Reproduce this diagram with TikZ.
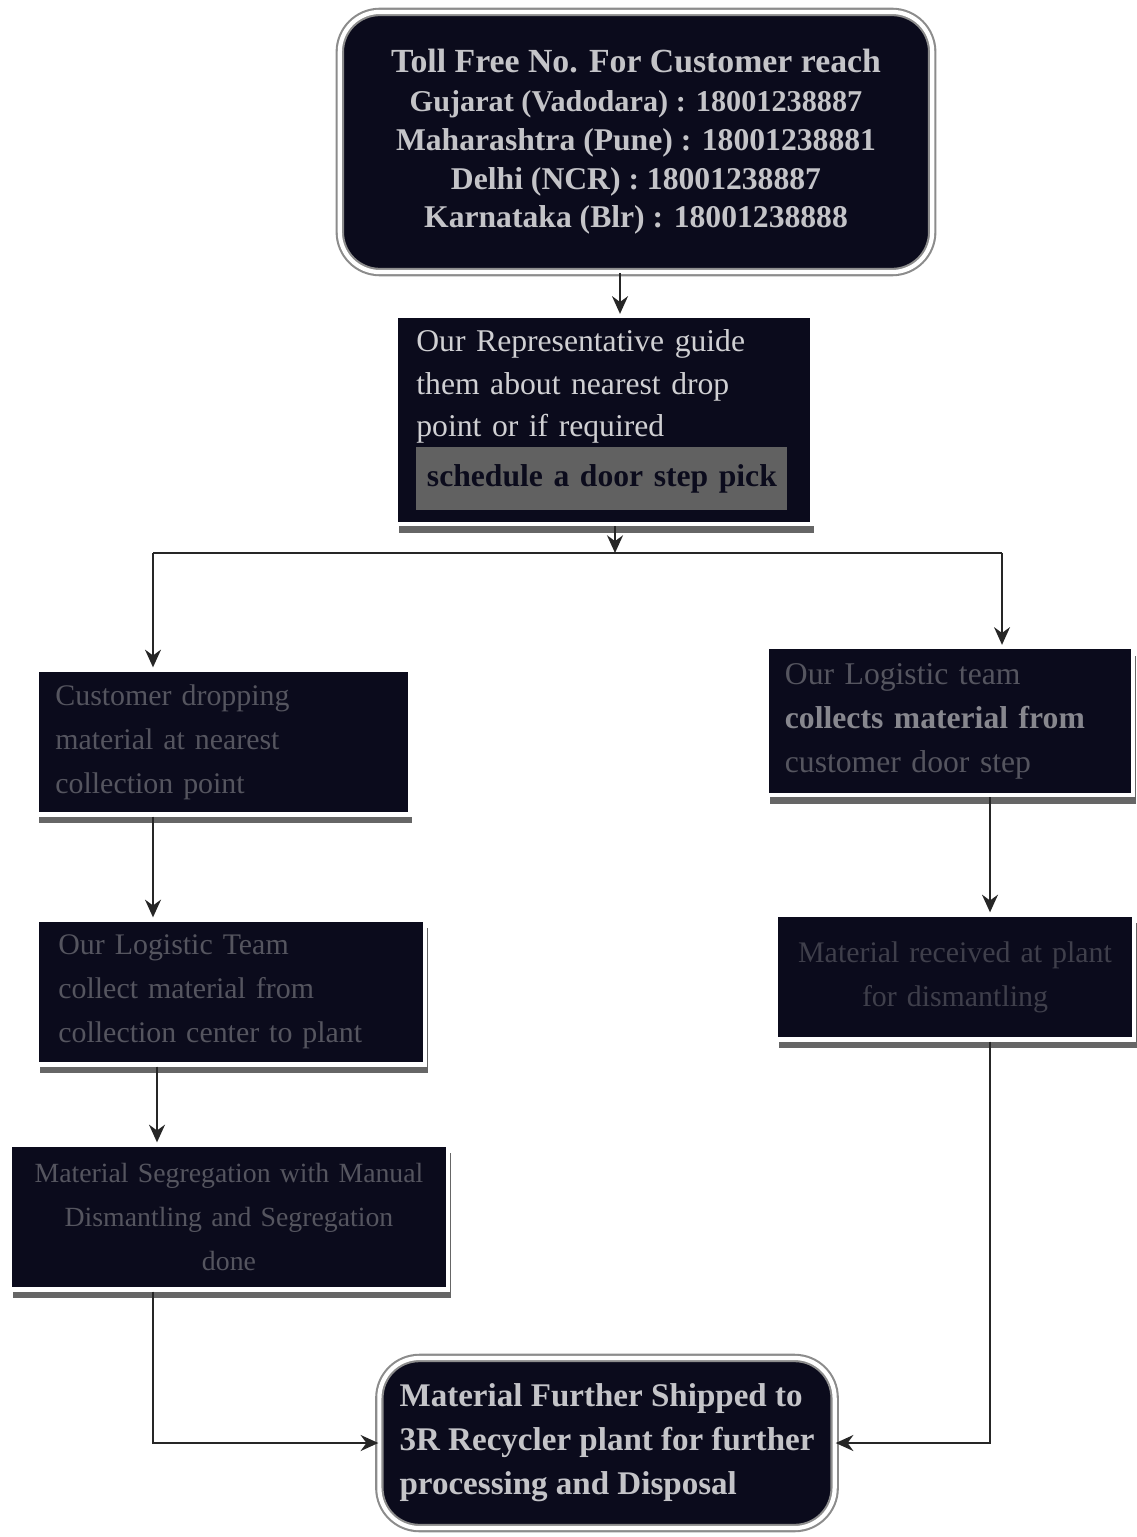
\documentclass[tikz,border=0pt]{standalone}
\usepackage{fontspec}
\setmainfont{Liberation Serif}
\usetikzlibrary{arrows.meta,positioning,calc,shadows}
\definecolor{boxfill}{HTML}{0B0B1C}
\definecolor{dimtext}{HTML}{55555F}
\definecolor{brighttext}{HTML}{C4C4C8}
\tikzset{
  post/.style    = {-{Stealth[length=5pt,width=4.5pt]}, line width=0.8pt, draw=black!85},
  link/.style    = {line width=0.8pt, draw=black!85},
  stepbox/.style = {draw=white, line width=1.2pt, fill=boxfill, inner sep=4pt, align=left,
                    drop shadow={shadow xshift=0.8pt, shadow yshift=-2.5pt, fill=black!60, opacity=1},
                    text=dimtext, font=\fontsize{8.5}{12.5}\selectfont},
  roundbox/.style= {double=white, double distance=1.2pt, draw=black!45, line width=0.6pt,
                    fill=boxfill, rounded corners=0.4cm, inner sep=2pt,
                    text=brighttext, font=\bfseries\fontsize{9}{11}\selectfont, align=center}
}

\begin{document}
\begin{tikzpicture}[x=0.01cm, y=-0.01cm]
  \useasboundingbox (0,0) rectangle (1136,1537);
  \fill[white] (0,0) rectangle (1136,1537);

  % columns of the connectors
  \coordinate (tx)    at (620,0);
  \coordinate (lx)    at (153,0);
  \coordinate (rx)    at (1002,0);
  \coordinate (rxb)   at (990,0);
  \coordinate (split) at (615,553);

  \node[roundbox, minimum width=5.92cm, minimum height=2.6cm] (top) at (636,142)
    {\fontsize{9.6}{10.5}\selectfont Toll Free No. For Customer reach\\
     \fontsize{8.6}{10.5}\selectfont
     Gujarat (Vadodara) : 18001238887\\
     Maharashtra (Pune) : 18001238881\\
     Delhi (NCR) : 18001238887\\
     Karnataka (Blr) : 18001238888};
  \node[stepbox, minimum width=4.15cm, minimum height=1.9cm, text width=3.75cm,
        text=brighttext!80, font=\fontsize{9}{12}\selectfont] (guide) at (604,420)
    {Our Representative guide\\ them about nearest drop\\ point or if required\\
     \colorbox{black!62}{\color{boxfill}\bfseries\strut schedule a door step pick}};

  \node[stepbox, minimum width=3.73cm, minimum height=1.45cm, text width=3.35cm] (drop) at (223,742)
    {Customer dropping\\ material at nearest\\ collection point};
  \node[stepbox, minimum width=3.88cm, minimum height=1.45cm, text width=3.45cm] (collect) at (231,992)
    {Our Logistic Team\\ collect material from\\ collection center to plant};
  \node[stepbox, minimum width=4.38cm, minimum height=1.45cm, text width=4.0cm, align=center,
        font=\fontsize{7.9}{12.5}\selectfont] (segregate) at (229,1217)
    {Material Segregation with Manual\\ Dismantling and Segregation\\ done};

  \node[stepbox, minimum width=3.66cm, minimum height=1.48cm, text width=3.3cm,
        font=\fontsize{9}{12.5}\selectfont] (pickup) at (950,721)
    {Our Logistic team\\ {\color{dimtext!55!brighttext}\bfseries collects material from}\\ customer door step};
  \node[stepbox, minimum width=3.58cm, minimum height=1.25cm, text width=3.3cm, align=center,
        text=dimtext!70!boxfill] (receive) at (955,977)
    {Material received at plant\\ for dismantling\\[14pt]};

  \node[roundbox, minimum width=4.55cm, minimum height=1.7cm, align=left,
        font=\bfseries\fontsize{9.4}{12.5}\selectfont] (ship) at (607,1443)
    {Material Further Shipped to\\ 3R Recycler plant for further\\ processing and Disposal};

  % connectors
  \draw[post] (top.south -| tx) -- (guide.north -| tx);
  \draw[post] (guide.south -| split) -- (split);
  \draw[link] (lx |- split) -- (rx |- split);
  \draw[post] (lx |- split) -- (drop.north -| lx);
  \draw[post] (rx |- split) -- (pickup.north -| rx);
  \draw[post] (drop.south -| lx) -- (collect.north -| lx);
  \draw[post] ([xshift=0.04cm]collect.south -| lx) -- ([xshift=0.04cm]segregate.north -| lx);
  \draw[post] (pickup.south -| rxb) -- (receive.north -| rxb);
  \draw[post] (segregate.south -| lx) |- (ship.west);
  \draw[post] (receive.south -| rxb) |- (ship.east);
\end{tikzpicture}
\end{document}
